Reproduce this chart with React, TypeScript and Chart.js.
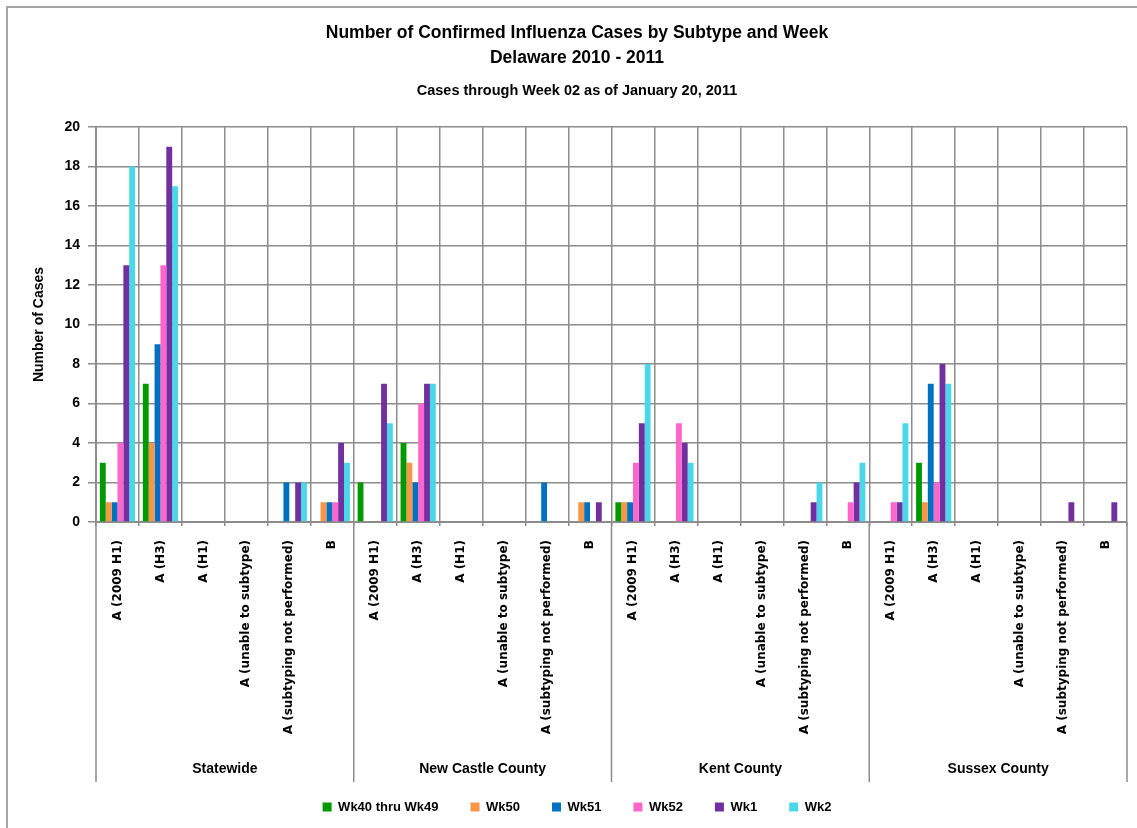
import React, { useEffect, useRef } from 'react';
import { Chart, registerables } from 'chart.js';

Chart.register(...registerables);

const regions = ['Statewide', 'New Castle County', 'Kent County', 'Sussex County'];
const subtypes = [
  'A (2009 H1)',
  'A (H3)',
  'A (H1)',
  'A (unable to subtype)',
  'A (subtyping not performed)',
  'B',
];
const seriesNames = ['Wk40 thru Wk49', 'Wk50', 'Wk51', 'Wk52', 'Wk1', 'Wk2'];
const yTicks = [0, 2, 4, 6, 8, 10, 12, 14, 16, 18, 20];

// values ordered: Statewide (6 subtypes), New Castle, Kent, Sussex
const wk40to49 = [3, 7, 0, 0, 0, 0, 2, 4, 0, 0, 0, 0, 1, 0, 0, 0, 0, 0, 0, 3, 0, 0, 0, 0];
const wk50 = [1, 4, 0, 0, 0, 1, 0, 3, 0, 0, 0, 1, 1, 0, 0, 0, 0, 0, 0, 1, 0, 0, 0, 0];
const wk51 = [1, 9, 0, 0, 2, 1, 0, 2, 0, 0, 2, 1, 1, 0, 0, 0, 0, 0, 0, 7, 0, 0, 0, 0];
const wk52 = [4, 13, 0, 0, 0, 1, 0, 6, 0, 0, 0, 0, 3, 5, 0, 0, 0, 1, 1, 2, 0, 0, 0, 0];
const wk1 = [13, 19, 0, 0, 2, 4, 7, 7, 0, 0, 0, 1, 5, 4, 0, 0, 1, 2, 1, 8, 0, 0, 1, 1];
const wk2 = [18, 17, 0, 0, 2, 3, 5, 7, 0, 0, 0, 0, 8, 3, 0, 0, 2, 3, 5, 7, 0, 0, 0, 0];

const seriesValues = [wk40to49, wk50, wk51, wk52, wk1, wk2];
const seriesColors = ['#009A00', '#F79646', '#0070C0', '#FF66CC', '#7030A0', '#4BD7EA'];

const titleLines = ['Number of Confirmed Influenza Cases by Subtype and Week', 'Delaware 2010 - 2011'];
const subtitleText = 'Cases through Week 02 as of January 20, 2011';

const SANS = "'Liberation Sans', Arial, sans-serif";
const WIDE = "'DejaVu Sans', Verdana, sans-serif";
const GRID = '#8c8c8c';

const frameAndGroups = {
  id: 'frameAndGroups',
  beforeDraw(chart: any) {
    const { ctx, width, height } = chart;
    ctx.save();
    ctx.fillStyle = '#ffffff';
    ctx.fillRect(0, 0, width, height);
    ctx.strokeStyle = '#a6a6a6';
    ctx.lineWidth = 2;
    ctx.beginPath();
    ctx.moveTo(7, height);
    ctx.lineTo(7, 7);
    ctx.lineTo(width, 7);
    ctx.stroke();
    ctx.restore();
  },
  afterDraw(chart: any) {
    const { ctx, chartArea } = chart;
    const x = chart.scales.x;
    const n = subtypes.length;
    const w = (x.right - x.left) / (regions.length * n);
    ctx.save();
    ctx.strokeStyle = GRID;
    ctx.lineWidth = 1.5;
    for (let g = 0; g <= regions.length; g++) {
      const px = x.left + g * n * w;
      ctx.beginPath();
      ctx.moveTo(px, chartArea.bottom);
      ctx.lineTo(px, chartArea.bottom + 260);
      ctx.stroke();
    }
    ctx.fillStyle = '#000';
    ctx.font = `bold 14px ${SANS}`;
    ctx.textAlign = 'center';
    ctx.textBaseline = 'middle';
    regions.forEach((r, g) => {
      const cx = x.left + (g * n + n / 2) * w;
      ctx.fillText(r, cx, chartArea.bottom + 247);
    });
    ctx.restore();
  },
};

export default function App() {
  const ref = useRef<HTMLCanvasElement | null>(null);
  useEffect(() => {
    document.body.style.margin = '0';
    const labels = regions.flatMap(() => subtypes);
    const chart = new Chart(ref.current as HTMLCanvasElement, {
      type: 'bar',
      data: {
        labels,
        datasets: seriesNames.map((name, i) => ({
          label: name,
          data: seriesValues[i],
          backgroundColor: seriesColors[i],
          borderWidth: 0,
          categoryPercentage: 0.82,
          barPercentage: 1.0,
        })),
      },
      options: {
        responsive: false,
        animation: false,
        layout: { padding: { top: 8, left: 27, right: 10, bottom: 4.5 } },
        plugins: {
          title: {
            display: true,
            text: titleLines,
            color: '#000',
            font: { family: SANS, size: 17.5, weight: 'bold', lineHeight: 1.43 },
            padding: { top: 12.5, bottom: 11.8 },
          },
          subtitle: {
            display: true,
            text: subtitleText,
            color: '#000',
            font: { family: SANS, size: 14.5, weight: 'bold', lineHeight: 1.2 },
            padding: { top: 0, bottom: 27.3 },
          },
          legend: {
            position: 'bottom',
            labels: {
              boxWidth: 9,
              boxHeight: 9,
              padding: 32,
              color: '#000',
              font: { family: SANS, size: 13, weight: 'bold' },
            },
          },
          tooltip: { enabled: false },
        },
        scales: {
          x: {
            grid: { color: GRID, offset: true, tickLength: 4, lineWidth: 1.5 },
            border: { color: GRID, width: 2 },
            ticks: {
              autoSkip: false,
              minRotation: 90,
              maxRotation: 90,
              padding: 14,
              color: '#000',
              font: { family: WIDE, size: 12, weight: 'bold' },
            },
            afterFit: (s: any) => {
              s.height = 246.5;
            },
          },
          y: {
            min: 0,
            max: 20,
            afterBuildTicks: (s: any) => {
              s.ticks = yTicks.map((v) => ({ value: v }));
            },
            grid: { color: GRID, tickLength: 8, lineWidth: 1.5 },
            border: { color: GRID, width: 2 },
            ticks: {
              padding: 8,
              color: '#000',
              font: { family: SANS, size: 14, weight: 'bold' },
            },
            title: {
              display: true,
              text: 'Number of Cases',
              color: '#000',
              font: { family: SANS, size: 14, weight: 'bold' },
              padding: { top: 4, bottom: 4 },
            },
            afterFit: (s: any) => {
              s.width = 69;
            },
          },
        },
      },
      plugins: [frameAndGroups],
    } as any);
    return () => chart.destroy();
  }, []);
  return (
    <div style={{ width: 1137, height: 828 }}>
      <canvas ref={ref} width={1137} height={828} style={{ display: 'block' }} />
    </div>
  );
}
